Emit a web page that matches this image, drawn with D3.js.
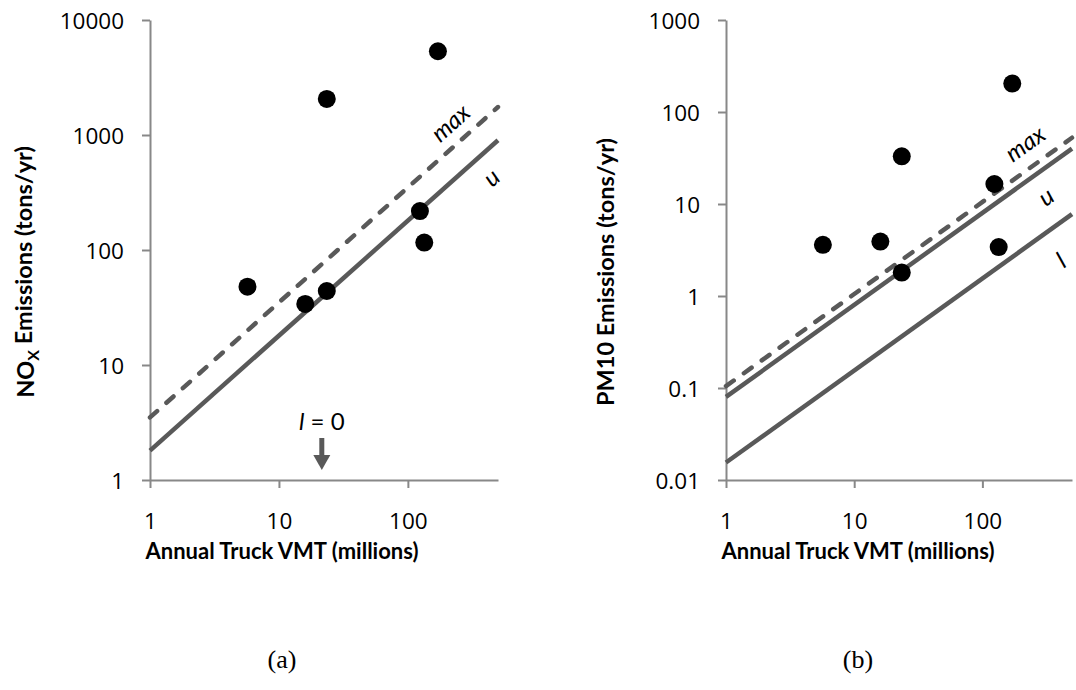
<!DOCTYPE html>
<html>
<head>
<meta charset="utf-8">
<script src="https://cdn.jsdelivr.net/npm/d3@7"></script>
<style>
  body { margin: 0; background: #fff; }
  text { font-family: Lato, "Open Sans", sans-serif; }
</style>
</head>
<body>
<svg id="fig" width="1076" height="690"></svg>
<script>
// Annual truck VMT (millions) for each facility
const vmt = [5.7, 16, 23.5, 23.5, 124, 134, 171];
// NOx emissions (tons/yr), same order as vmt
const noxEmissions = [48, 34, 44, 2060, 218, 116, 5350];
// PM10 emissions (tons/yr), same order as vmt
const pm10Emissions = [3.6, 3.9, 1.8, 33, 16.5, 3.4, 204];

const vmtDomain = [1, 500];
const xTicks = [1, 10, 100];
const noxTicks = [1, 10, 100, 1000, 10000];
const pm10Ticks = [0.01, 0.1, 1, 10, 100, 1000];

// Bound lines: emissions = rate x VMT
const noxBoundNames = ["max", "u"];
const noxBoundRates = [3.5, 1.8];
const pm10BoundNames = ["max", "u", "l"];
const pm10BoundRates = [0.105, 0.08, 0.0155];
// VMT at which the NOx lower bound drops to zero
const noxLowerZeroVmt = 21.5;

const LINE = "#595959";
const AXIS = "#888888";
const svg = d3.select("#fig");

function panel(opts) {
  const x = d3.scaleLog().domain(vmtDomain).range([opts.left, opts.right]);
  const y = d3.scaleLog().domain(opts.yDomain).range([opts.bottom, opts.top]);
  const g = svg.append("g");

  // axes
  const xAxis = g.append("g")
    .attr("transform", `translate(0,${opts.bottom})`)
    .call(d3.axisBottom(x).tickValues(xTicks).tickFormat(d => String(d))
      .tickSize(8).tickSizeOuter(0).tickPadding(25));
  const yAxis = g.append("g")
    .attr("transform", `translate(${opts.left},0)`)
    .call(d3.axisLeft(y).tickValues(opts.yTicks).tickFormat(d => String(d))
      .tickSize(8).tickSizeOuter(0).tickPadding(18));
  [xAxis, yAxis].forEach(a => {
    a.select(".domain").attr("stroke", AXIS).attr("stroke-width", 2);
    a.selectAll(".tick line").attr("stroke", AXIS).attr("stroke-width", 2);
    a.selectAll(".tick text").attr("fill", "#000").style("font-size", "22.5px")
      .style("font-family", "'Open Sans', sans-serif");
  });
  yAxis.selectAll(".tick text").attr("dy", "0.36em");

  // angle of a slope-1 line on this log-log frame
  const angle = Math.atan2(y(10) - y(1), x(10) - x(1)) * 180 / Math.PI;

  // bound lines
  const line = d3.line().x(d => x(d[0])).y(d => y(d[1]));
  opts.boundNames.forEach((name, i) => {
    const rate = opts.boundRates[i];
    g.append("path")
      .datum(vmtDomain.map(v => [v, rate * v]))
      .attr("d", line)
      .attr("fill", "none")
      .attr("stroke", LINE)
      .attr("stroke-width", 4.5)
      .attr("stroke-linecap", name === "max" ? "round" : "butt")
      .attr("stroke-dasharray", name === "max" ? "9.5,12.5" : null);

    const lab = opts.labels[name];
    const px = x(lab.at), py = y(rate * lab.at) + lab.dy;
    g.append("text")
      .attr("transform", `translate(${px},${py}) rotate(${angle})`)
      .attr("text-anchor", "middle")
      .attr("dominant-baseline", "central")
      .style("font-size", "24px")
      .style("font-style", "italic")
      .text(name);
  });

  // facilities
  g.selectAll("circle.pt")
    .data(vmt.map((v, i) => [v, opts.values[i]]))
    .join("circle")
    .attr("class", "pt")
    .attr("cx", d => x(d[0]))
    .attr("cy", d => y(d[1]))
    .attr("r", 9)
    .attr("fill", "#000");

  // axis titles
  g.append("text")
    .attr("x", opts.xTitleX)
    .attr("y", 559)
    .attr("text-anchor", "middle")
    .style("font-size", "22px")
    .style("font-weight", "bold")
    .text("Annual Truck VMT (millions)");

  const yt = g.append("text")
    .attr("transform", `translate(${opts.yTitleX},272) rotate(-90)`)
    .attr("text-anchor", "middle")
    .style("font-size", "23.5px")
    .style("font-weight", "bold");
  opts.yTitle(yt);

  // caption
  g.append("text")
    .attr("x", opts.xTitleX)
    .attr("y", 668)
    .attr("text-anchor", "middle")
    .style("font-family", "'Liberation Serif', 'Times New Roman', serif")
    .style("font-size", "26px")
    .text(opts.caption);

  return { x, y, g };
}

// (a) NOx
const a = panel({
  left: 150, right: 498, top: 20, bottom: 480,
  yDomain: [1, 10000], yTicks: noxTicks, values: noxEmissions,
  boundNames: noxBoundNames, boundRates: noxBoundRates,
  labels: { max: { at: 211, dy: -28 }, u: { at: 439, dy: 30 } },
  yTitleX: 34, xTitleX: 282,
  yTitle: t => {
    t.append("tspan").text("NO");
    t.append("tspan").text("X").style("font-size", "16px").attr("dy", "0.3em");
    t.append("tspan").text(" Emissions (tons/yr)").attr("dy", "-0.3em");
  },
  caption: "(a)"
});

// lower bound for NOx is zero beyond this VMT: arrow marker on the axis
{
  const ax = a.x(noxLowerZeroVmt), base = 480;
  a.g.append("line")
    .attr("x1", ax).attr("x2", ax)
    .attr("y1", base - 42).attr("y2", base - 24)
    .attr("stroke", LINE).attr("stroke-width", 5);
  a.g.append("path")
    .attr("d", `M${ax - 8.5},${base - 25}L${ax + 8.5},${base - 25}L${ax},${base - 10}Z`)
    .attr("fill", LINE);
  const lt = a.g.append("text")
    .attr("x", ax).attr("y", base - 50)
    .attr("text-anchor", "middle")
    .style("font-size", "24px");
  lt.append("tspan").style("font-style", "italic").text("l");
  lt.append("tspan").text(" = 0");
}

// (b) PM10
panel({
  left: 726, right: 1072, top: 20, bottom: 480,
  yDomain: [0.01, 1000], yTicks: pm10Ticks, values: pm10Emissions,
  boundNames: pm10BoundNames, boundRates: pm10BoundRates,
  labels: { max: { at: 213, dy: -29 }, u: { at: 310, dy: 28 }, l: { at: 406, dy: 37 } },
  yTitleX: 614, xTitleX: 858,
  yTitle: t => t.text("PM10 Emissions (tons/yr)"),
  caption: "(b)"
});
</script>
</body>
</html>
